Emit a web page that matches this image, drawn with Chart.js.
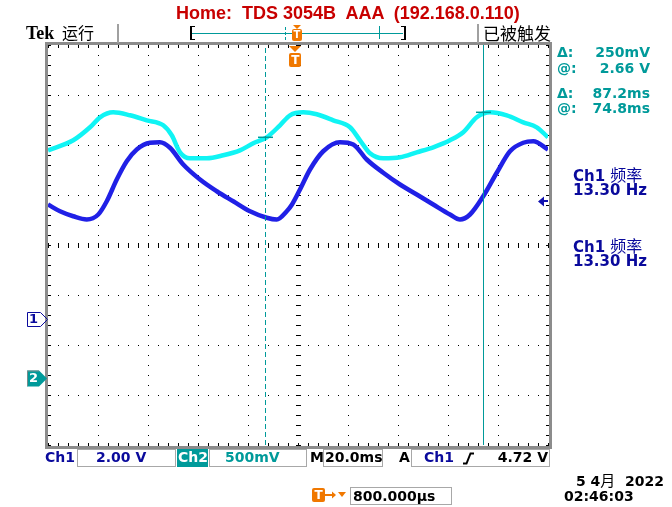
<!DOCTYPE html>
<html><head><meta charset="utf-8">
<script src="https://cdn.jsdelivr.net/npm/chart.js@4.4.1/dist/chart.umd.min.js"></script>
<style>
html,body{margin:0;padding:0;background:#fff;}
#wrap{position:relative;width:672px;height:507px;overflow:hidden;background:#fff;}
#c{position:absolute;left:0;top:0;}
.t{position:absolute;white-space:pre;line-height:1;font-family:"DejaVu Sans",sans-serif;font-weight:bold;font-size:14px;}
.box{position:absolute;border:1px solid #a8a8a8;box-sizing:border-box;}
.cjk{font-family:"Noto Sans CJK SC",sans-serif;font-weight:normal;}
.blk{position:absolute;}
.navy{color:#0a0a9c;}
.teal{color:#009a9a;}
</style></head><body>
<div id="wrap">
<canvas id="c" width="672" height="507"></canvas>

<!-- header -->
<div class="t" style="left:176px;top:4px;font-family:'Liberation Sans',Arial,sans-serif;font-size:18px;color:#c80000;">Home:  TDS 3054B  AAA  (192.168.0.110)</div>
<div class="t" style="left:26px;top:24px;font-family:'Liberation Serif',serif;font-size:18px;color:#000;">Tek</div>
<div class="t cjk" style="left:62px;top:24px;font-size:16px;color:#000;">运行</div>
<div class="t cjk" style="left:483px;top:24px;font-size:17px;color:#000;">已被触发</div>
<div class="blk" style="left:117px;top:24px;width:2px;height:19px;background:#a0a0a0;"></div>
<div class="blk" style="left:477px;top:24px;width:2px;height:19px;background:#a0a0a0;"></div>
<div class="blk" style="left:190px;top:26px;width:3px;height:12px;border-left:2px solid #000;border-top:1px solid #000;border-bottom:1px solid #000;"></div>
<div class="blk" style="left:401px;top:26px;width:3px;height:12px;border-right:2px solid #000;border-top:1px solid #000;border-bottom:1px solid #000;"></div>
<div class="blk" style="left:192px;top:33px;width:211px;height:1px;background:#009a9a;"></div>
<div class="blk" style="left:285px;top:27px;width:0;height:13px;border-left:1px dashed #009a9a;"></div>
<div class="blk" style="left:379px;top:26px;width:1px;height:13px;background:#009a9a;"></div>
<div class="blk" style="left:293px;top:25px;width:0;height:0;border-left:4px solid transparent;border-right:4px solid transparent;border-top:4px solid #f07800;"></div>
<div class="blk t" style="left:292px;top:29px;width:10px;height:12px;background:#f07800;color:#fff;font-size:10px;text-align:center;line-height:12px;border-radius:2px;">T</div>

<!-- right panel -->
<div class="t teal" style="left:557px;top:45px;">Δ:</div>
<div class="t teal" style="right:22px;top:45px;">250mV</div>
<div class="t teal" style="left:557px;top:61px;">@:</div>
<div class="t teal" style="right:22px;top:61px;">2.66 V</div>
<div class="t teal" style="left:557px;top:86px;">Δ:</div>
<div class="t teal" style="right:22px;top:86px;">87.2ms</div>
<div class="t teal" style="left:557px;top:101px;">@:</div>
<div class="t teal" style="right:22px;top:101px;">74.8ms</div>
<div class="t navy" style="left:573px;top:166px;font-size:15px;">Ch1 <span class="cjk" style="font-size:16px;">频率</span></div>
<div class="t navy" style="left:573px;top:183px;font-size:15px;">13.30 Hz</div>
<div class="t navy" style="left:573px;top:237px;font-size:15px;">Ch1 <span class="cjk" style="font-size:16px;">频率</span></div>
<div class="t navy" style="left:573px;top:254px;font-size:15px;">13.30 Hz</div>

<!-- bottom row 1 -->
<div class="t navy" style="left:45px;top:450px;">Ch1</div>
<div class="box" style="left:77px;top:449px;width:99px;height:18px;"></div>
<div class="t navy" style="left:96px;top:450px;">2.00 V</div>
<div class="blk" style="left:177px;top:449px;width:31px;height:18px;background:#009a9a;"></div>
<div class="t" style="left:178px;top:450px;color:#fff;">Ch2</div>
<div class="box" style="left:209px;top:449px;width:98px;height:18px;"></div>
<div class="t teal" style="left:225px;top:450px;">500mV</div>
<div class="t" style="left:310px;top:450px;color:#000;">M</div>
<div class="box" style="left:323px;top:449px;width:60px;height:18px;"></div>
<div class="t" style="left:325px;top:450px;color:#000;">20.0ms</div>
<div class="t" style="left:399px;top:450px;color:#000;">A</div>
<div class="box" style="left:411px;top:449px;width:139px;height:18px;"></div>
<div class="t navy" style="left:424px;top:450px;">Ch1</div>
<svg class="blk" style="left:462px;top:452px;" width="13" height="13"><path d="M1 11.5 H4.5 L8.5 1.5 H12" fill="none" stroke="#000" stroke-width="2"/></svg>
<div class="t" style="right:124px;top:450px;color:#000;">4.72 V</div>

<!-- bottom row 2 -->
<div class="blk t" style="left:312px;top:488px;width:13px;height:14px;background:#f07800;color:#fff;font-size:12px;text-align:center;line-height:14px;border-radius:2px;">T</div>
<svg class="blk" style="left:325px;top:490px;" width="22" height="10"><path d="M0 5 H8" stroke="#f07800" stroke-width="2"/><path d="M7 1.5 L11 5 L7 8.5 Z" fill="#f07800"/><path d="M13 2 H21 L17 7 Z" fill="#f07800"/></svg>
<div class="box" style="left:350px;top:487px;width:102px;height:18px;"></div>
<div class="t" style="left:353px;top:489px;color:#000;">800.000µs</div>
<div class="t" style="right:8px;top:472px;color:#000;">5 4<span class="cjk" style="font-size:15px;">月</span>  2022</div>
<div class="t" style="left:564px;top:489px;color:#000;">02:46:03</div>

<!-- channel / trigger labels positioned from scales -->
<div class="t navy" id="lab1" style="left:29px;top:0;font-size:13px;">1</div>
<div class="t" id="lab2" style="left:29px;top:0;font-size:13px;color:#fff;">2</div>
<div class="blk" id="trigTri" style="width:0;height:0;border-left:6px solid transparent;border-right:6px solid transparent;border-top:6px solid #f07800;"></div>
<div class="blk t" id="trigT" style="width:12px;height:14px;background:#f07800;color:#fff;font-size:12px;text-align:center;line-height:14px;border-radius:2px;">T</div>
</div>

<script>
// ---- data ----
// time base: 20 ms/div, 10 divisions (0..200 ms across the screen)
const ch1Time  = [0,4.8,10.1,15.5,20.1,23.5,27.5,31.5,35.5,40.8,44.8,48.8,54.1,60.8,67.5,74.1,80.8,87.5,91.5,95.5,97.6,100.8,104.8,110.1,116.8,122.1,127.5,134.1,140.8,147.5,154.1,160.8,164.8,168.8,174.1,179.5,184.8,190.1,194.1,200];
const ch1Volts = [4.56,4.29,4.09,3.96,4.16,4.69,5.56,6.29,6.76,7.03,7.05,6.83,6.16,5.56,5.09,4.69,4.29,4.03,3.96,4.29,4.56,5.16,5.96,6.69,7.05,6.96,6.36,5.83,5.36,4.96,4.56,4.16,3.96,4.16,4.89,5.83,6.69,7.03,7.09,6.76];
const ch2Time  = [0,10.1,16.8,20.8,26.1,32.8,39.5,46.1,49.5,52.8,56.8,63.5,70.1,76.8,82.1,87.5,92.8,96.8,102.1,107.5,114.1,120.8,124.8,128.8,134.1,140.8,147.5,154.1,160.8,166.1,171.5,176.8,183.5,190.1,195.5,200];
const ch2Volts = [2.28,2.38,2.51,2.61,2.66,2.63,2.58,2.53,2.43,2.26,2.20,2.20,2.23,2.28,2.35,2.41,2.53,2.63,2.66,2.64,2.58,2.51,2.38,2.25,2.20,2.21,2.26,2.31,2.38,2.46,2.61,2.66,2.63,2.56,2.51,2.41];
const cursorTimes  = [87.0, 174.2];   // ms on screen
const cursorLevels = [2.41, 2.66];    // Ch2 volts
const triggerTime  = [98.9];          // ms on screen
const triggerLevel = [4.72];          // Ch1 volts
const ch1Range = [-5.06, 10.94];      // 2 V/div, 8 div
const ch2Range = [-0.667, 3.333];     // 500 mV/div, 8 div
const divRange = [-4, 4];

const TEAL = '#009a9a';

const pts = (xs, ys) => xs.map((x, i) => ({x, y: ys[i]}));

const frameTicks = {
  id: 'frameTicks',
  beforeDatasetsDraw(chart) {
    const {ctx, chartArea: a, scales} = chart;
    const xs = scales.x, ds = scales.div;
    ctx.save();
    ctx.fillStyle = '#000';
    const yc = Math.round(ds.getPixelForValue(0));
    const xc = Math.round(xs.getPixelForValue(100));
    for (let k = 0; k <= 50; k++) {
      const x = Math.round(xs.getPixelForValue(k * 4));
      ctx.fillRect(x, a.top, 1, 3);
      ctx.fillRect(x, a.bottom - 2, 1, 3);
      ctx.fillRect(x, yc - 2, 1, 5);
    }
    for (let k = 0; k <= 40; k++) {
      const y = Math.round(ds.getPixelForValue(-4 + k * 0.2));
      ctx.fillRect(a.left, y, 3, 1);
      ctx.fillRect(a.right - 2, y, 3, 1);
      ctx.fillRect(xc - 2, y, 5, 1);
    }
    ctx.fillStyle = '#8c8c8c';
    const w = a.right - a.left + 7, h = a.bottom - a.top + 7;
    ctx.fillRect(a.left - 3, a.top - 3, w, 3);
    ctx.fillRect(a.left - 3, a.bottom + 1, w, 3);
    ctx.fillRect(a.left - 3, a.top - 3, 3, h);
    ctx.fillRect(a.right + 1, a.top - 3, 3, h);
    ctx.restore();
  }
};

const markers = {
  id: 'markers',
  afterDatasetsDraw(chart) {
    const {ctx, chartArea: a, scales} = chart;
    const y1 = Math.round(scales.ch1.getPixelForValue(0)) + 0.5;
    const y2 = Math.round(scales.ch2.getPixelForValue(0)) + 0.5;
    const yt = Math.round(scales.ch1.getPixelForValue(triggerLevel[0])) + 0.5;
    ctx.save();
    ctx.strokeStyle = '#0a0a9c'; ctx.lineWidth = 1;
    ctx.beginPath();
    ctx.moveTo(27.5, y1 - 7); ctx.lineTo(40.5, y1 - 7); ctx.lineTo(47.5, y1);
    ctx.lineTo(40.5, y1 + 7); ctx.lineTo(27.5, y1 + 7); ctx.closePath(); ctx.stroke();
    ctx.fillStyle = TEAL;
    ctx.beginPath();
    ctx.moveTo(27, y2 - 8); ctx.lineTo(39, y2 - 8); ctx.lineTo(47, y2);
    ctx.lineTo(39, y2 + 8); ctx.lineTo(27, y2 + 8); ctx.closePath(); ctx.fill();
    ctx.strokeStyle = '#7a8a8a';
    ctx.beginPath(); ctx.moveTo(27.5, y2 + 7.5); ctx.lineTo(27.5, y2 - 7.5); ctx.lineTo(39, y2 - 7.5); ctx.stroke();
    ctx.fillStyle = '#1010b0';
    ctx.beginPath();
    ctx.moveTo(a.right - 10, yt); ctx.lineTo(a.right - 4, yt - 5); ctx.lineTo(a.right - 4, yt + 5); ctx.closePath(); ctx.fill();
    ctx.fillRect(a.right - 5, yt - 1.5, 5, 2);
    ctx.restore();
  },
  afterRender(chart) {
    const s = chart.scales;
    const y1 = s.ch1.getPixelForValue(0), y2 = s.ch2.getPixelForValue(0);
    document.getElementById('lab1').style.top = (y1 - 7) + 'px';
    document.getElementById('lab2').style.top = (y2 - 7) + 'px';
    const xt = s.x.getPixelForValue(triggerTime[0]);
    const tri = document.getElementById('trigTri');
    tri.style.left = (xt - 6) + 'px'; tri.style.top = (chart.chartArea.top + 1) + 'px';
    const tt = document.getElementById('trigT');
    tt.style.left = (xt - 6) + 'px'; tt.style.top = (chart.chartArea.top + 8) + 'px';
  }
};

const gridOpts = {color: '#000', lineWidth: 1, drawTicks: false};

new Chart(document.getElementById('c'), {
  type: 'line',
  data: {
    datasets: [
      {data: [{x: cursorTimes[0], y: ch2Range[0]}, {x: cursorTimes[0], y: ch2Range[1]}], yAxisID: 'ch2',
       borderColor: TEAL, borderWidth: 1, borderDash: [5, 3], pointRadius: 0, order: 0},
      {data: [{x: cursorTimes[1], y: ch2Range[0]}, {x: cursorTimes[1], y: ch2Range[1]}], yAxisID: 'ch2',
       borderColor: TEAL, borderWidth: 1, pointRadius: 0, order: 0},
      {data: [{x: cursorTimes[0] - 3, y: cursorLevels[0]}, {x: cursorTimes[0] + 3, y: cursorLevels[0]}], yAxisID: 'ch2',
       borderColor: TEAL, borderWidth: 1.5, pointRadius: 0, order: 0},
      {data: [{x: cursorTimes[1] - 3, y: cursorLevels[1]}, {x: cursorTimes[1] + 3, y: cursorLevels[1]}], yAxisID: 'ch2',
       borderColor: TEAL, borderWidth: 1.5, pointRadius: 0, order: 0},
      {label: 'Ch2', data: pts(ch2Time, ch2Volts), yAxisID: 'ch2', borderColor: '#10f4f4', borderWidth: 4.5,
       pointRadius: 0, cubicInterpolationMode: 'monotone', order: 2},
      {label: 'Ch1', data: pts(ch1Time, ch1Volts), yAxisID: 'ch1', borderColor: '#2020e6', borderWidth: 4.5,
       pointRadius: 0, cubicInterpolationMode: 'monotone', order: 1}
    ]
  },
  options: {
    responsive: false, animation: false, events: [],
    layout: {padding: {left: 48, top: 45, right: 124, bottom: 62}},
    plugins: {legend: {display: false}, tooltip: {enabled: false}},
    scales: {
      x: {type: 'linear', min: 0, max: 200, ticks: {display: false, stepSize: 20}, grid: gridOpts, border: {display: false, dash: [1, 9]}},
      div: {type: 'linear', position: 'left', min: divRange[0], max: divRange[1], ticks: {display: false, stepSize: 1}, grid: gridOpts, border: {display: false, dash: [1, 9]}},
      ch1: {type: 'linear', display: false, min: ch1Range[0], max: ch1Range[1]},
      ch2: {type: 'linear', display: false, min: ch2Range[0], max: ch2Range[1]}
    }
  },
  plugins: [frameTicks, markers]
});
</script>
</body></html>
